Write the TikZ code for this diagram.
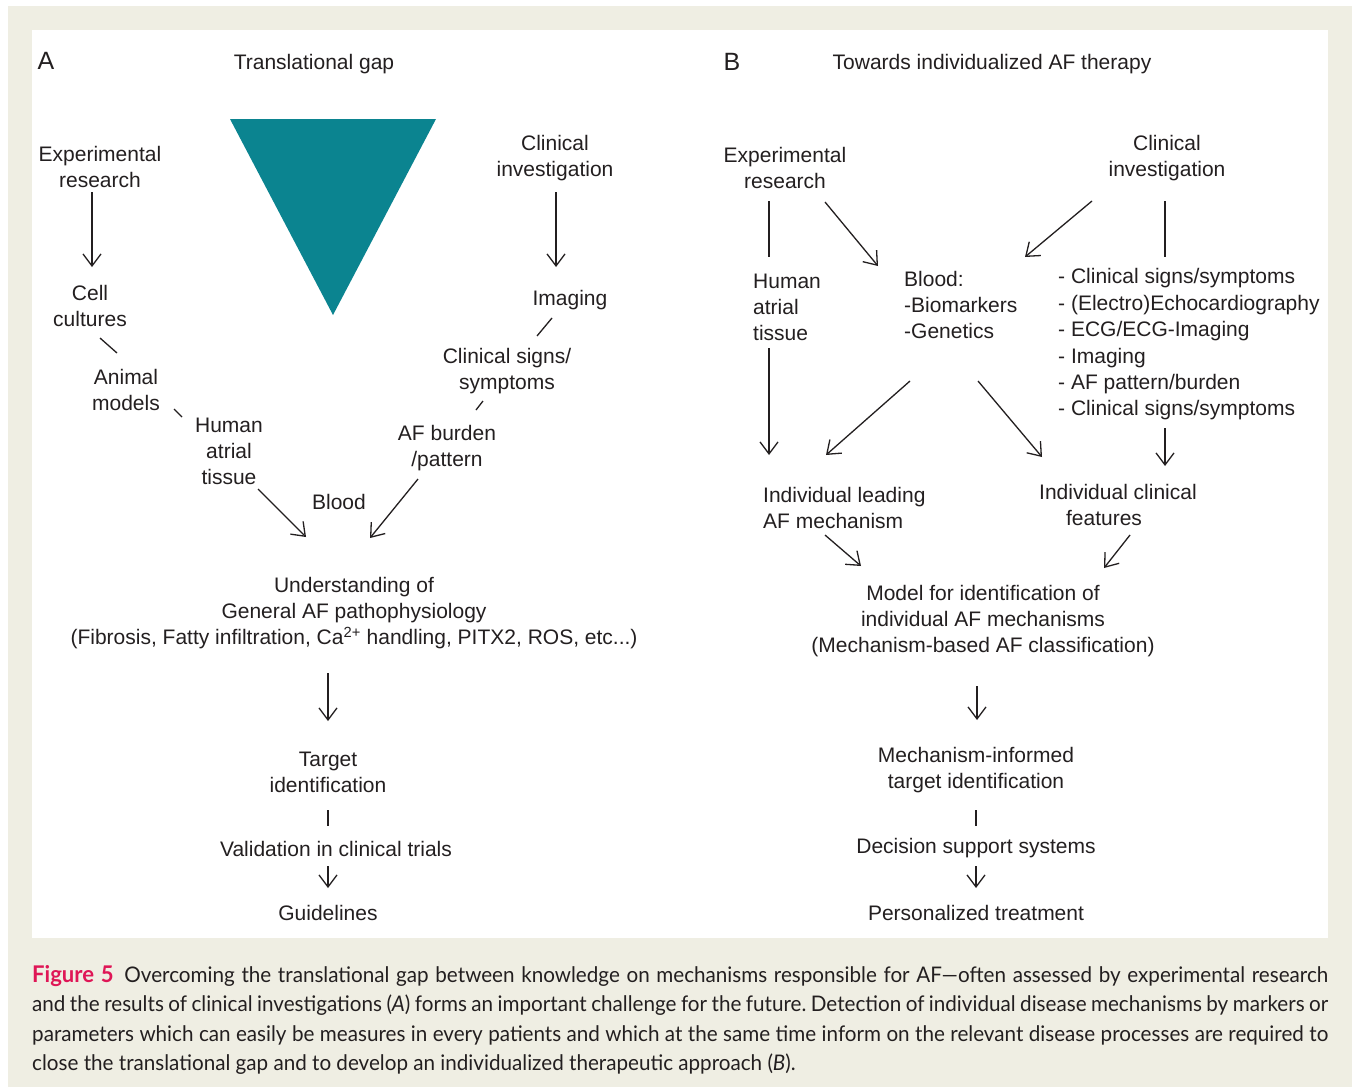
\documentclass[tikz,border=0pt]{standalone}
\usepackage{fontspec}
\setmainfont{Liberation Sans}
\newfontfamily\capfont[FakeStretch=0.96]{Lato}
\usetikzlibrary{arrows.meta}
\definecolor{beige}{HTML}{EFEEE3}
\definecolor{ink}{HTML}{231F20}
\definecolor{tealtri}{HTML}{0B8490}
\definecolor{figred}{HTML}{DF1656}
\tikzset{
  txt/.style={inner sep=0pt, text=ink, align=center, yshift=-1.5pt, font=\fontsize{21}{26}\selectfont},
  ltxt/.style={txt, align=left, anchor=west},
  lbl/.style={inner sep=0pt, text=ink, font=\fontsize{25}{30}\selectfont},
  arr/.style={draw=ink, line width=1.3pt, -{Straight Barb[length=12pt,width=18pt]}},
  ln/.style={draw=ink, line width=1.3pt},
}
\begin{document}
\begin{tikzpicture}[x=1pt,y=-1pt]
\useasboundingbox (0,0) rectangle (1355,1087);
\fill[beige] (8,6) rectangle (1352,1087);
\fill[white] (32,30) rectangle (1328,938);
% ---------------- Panel A
\node[lbl] (A) at (46,61) {A};
\node[txt] (titleA) at (314,63) {Translational gap};
\fill[tealtri] (230,119) -- (436,119) -- (333,315) -- cycle;
\node[txt] (expA) at (100,165) {Experimental\\research};
\node[txt] (cell) at (90,304) {Cell\\cultures};
\node[txt] (animal) at (126,388) {Animal\\models};
\node[txt] (humanA) at (229,450) {Human\\atrial\\tissue};
\node[txt] (blood) at (339,500) {Blood};
\node[txt] (burden) at (447,447) {AF burden\\/pattern};
\node[txt] (signsA) at (507,370) {Clinical signs/\\symptoms};
\node[txt] (imaging) at (570,299) {Imaging};
\node[txt] (clinA) at (555,157) {Clinical\\investigation};
\node[txt] (under) at (354,612) {Understanding of\\General AF pathophysiology\\(Fibrosis, Fatty infiltration, Ca\textsuperscript{2+} handling, PITX2, ROS, etc...)};
\node[txt] (target) at (328,771) {Target\\identification};
\node[txt] (valid) at (336,847) {Validation in clinical trials};
\node[txt] (guide) at (328,911) {Guidelines};
% connector end points (panel A)
\coordinate (expA-o) at (92,192);   \coordinate (cell-i) at (92,267);
\coordinate (cell-o) at (100,338);  \coordinate (animal-i) at (117,353);
\coordinate (animal-o) at (174,409);\coordinate (humanA-i) at (182,417);
\coordinate (humanA-o) at (258,489);\coordinate (under-i1) at (306,537);
\coordinate (burden-o) at (418,479);\coordinate (under-i2) at (370,538);
\coordinate (signsA-o) at (476,410);\coordinate (burden-i) at (483,401);
\coordinate (imaging-o) at (537,336);\coordinate (signsA-i) at (552,318);
\coordinate (clinA-o) at (556,192); \coordinate (imaging-i) at (556,267);
\coordinate (under-o) at (328,673); \coordinate (target-i) at (328,721);
\coordinate (target-o) at (328,810);\coordinate (valid-i) at (328,826);
\coordinate (valid-o) at (328,866); \coordinate (guide-i) at (328,888);
\draw[arr] (expA-o) -- (cell-i);
\draw[ln] (cell-o) -- (animal-i);
\draw[ln] (animal-o) -- (humanA-i);
\draw[arr] (humanA-o) -- (under-i1);
\draw[arr] (burden-o) -- (under-i2);
\draw[ln] (signsA-o) -- (burden-i);
\draw[ln] (imaging-o) -- (signsA-i);
\draw[arr] (clinA-o) -- (imaging-i);
\draw[arr] (under-o) -- (target-i);
\draw[ln] (target-o) -- (valid-i);
\draw[arr] (valid-o) -- (guide-i);
% ---------------- Panel B
\node[lbl] (B) at (732,62) {B};
\node[txt] (titleB) at (992,63) {Towards individualized AF therapy};
\node[txt] (expB) at (785,166) {Experimental\\research};
\node[txt] (clinB) at (1167,157) {Clinical\\investigation};
\node[ltxt] (humanB) at (753,306) {Human\\atrial\\tissue};
\node[ltxt] (bloodB) at (904,303) {Blood:\\-Biomarkers\\-Genetics};
\node[ltxt, font=\fontsize{21}{26.4}\selectfont] (list) at (1058,343) {- Clinical signs/symptoms\\- (Electro)Echocardiography\\- ECG/ECG-Imaging\\- Imaging\\- AF pattern/burden\\- Clinical signs/symptoms};
\node[ltxt] (leading) at (763,506) {Individual leading\\AF mechanism};
\node[txt] (clinfeat) at (1118,503) {Individual clinical\\features\hspace*{28pt}};
\node[txt] (model) at (983,620) {Model for identification of\\individual AF mechanisms\\(Mechanism-based AF classification)};
\node[txt] (mechinf) at (976,769) {Mechanism-informed\\target identification};
\node[txt] (dss) at (976,847) {Decision support systems};
\node[txt] (pers) at (976,911) {Personalized treatment};
% connector end points (panel B)
\coordinate (expB-o1) at (769,201); \coordinate (humanB-i) at (769,257);
\coordinate (expB-o2) at (825,202); \coordinate (bloodB-i1) at (878,266);
\coordinate (clinB-o1) at (1092,201);\coordinate (bloodB-i2) at (1025,257);
\coordinate (clinB-o2) at (1165,201);\coordinate (list-i) at (1165,257);
\coordinate (humanB-o) at (769,348); \coordinate (leading-i1) at (769,455);
\coordinate (bloodB-o1) at (910,381);\coordinate (leading-i2) at (826,455);
\coordinate (bloodB-o2) at (978,381);\coordinate (clinfeat-i1) at (1042,457);
\coordinate (list-o) at (1165,428);  \coordinate (clinfeat-i2) at (1165,466);
\coordinate (leading-o) at (825,535);\coordinate (model-i1) at (861,566);
\coordinate (clinfeat-o) at (1130,535);\coordinate (model-i2) at (1104,568);
\coordinate (model-o) at (977,686);  \coordinate (mechinf-i) at (977,720);
\coordinate (mechinf-o) at (976,810);\coordinate (dss-i) at (976,826);
\coordinate (dss-o) at (976,866);    \coordinate (pers-i) at (976,888);
\draw[ln] (expB-o1) -- (humanB-i);
\draw[arr] (expB-o2) -- (bloodB-i1);
\draw[arr] (clinB-o1) -- (bloodB-i2);
\draw[ln] (clinB-o2) -- (list-i);
\draw[arr] (humanB-o) -- (leading-i1);
\draw[arr] (bloodB-o1) -- (leading-i2);
\draw[arr] (bloodB-o2) -- (clinfeat-i1);
\draw[arr] (list-o) -- (clinfeat-i2);
\draw[arr] (leading-o) -- (model-i1);
\draw[arr] (clinfeat-o) -- (model-i2);
\draw[arr] (model-o) -- (mechinf-i);
\draw[ln] (mechinf-o) -- (dss-i);
\draw[arr] (dss-o) -- (pers-i);
% ---------------- Caption
\node[inner sep=0pt, anchor=north west, text width=1296pt, align=justify, text=ink,
      font=\capfont\fontsize{21.5}{29.4}\selectfont\frenchspacing] (caption) at (32,965)
  {{\color{figred}\bfseries\fontsize{23}{29.4}\selectfont Figure 5}\enspace Overcoming the translational gap between knowledge on mechanisms responsible for AF\textemdash often assessed by experimental research\linebreak
   and the results of clinical investigations (\textit{A}) forms an important challenge for the future. Detection of individual disease mechanisms by markers or\linebreak
   parameters which can easily be measures in every patients and which at the same time inform on the relevant disease processes are required to\linebreak
   close the translational gap and to develop an individualized therapeutic approach (\textit{B}).};
\end{tikzpicture}
\end{document}
